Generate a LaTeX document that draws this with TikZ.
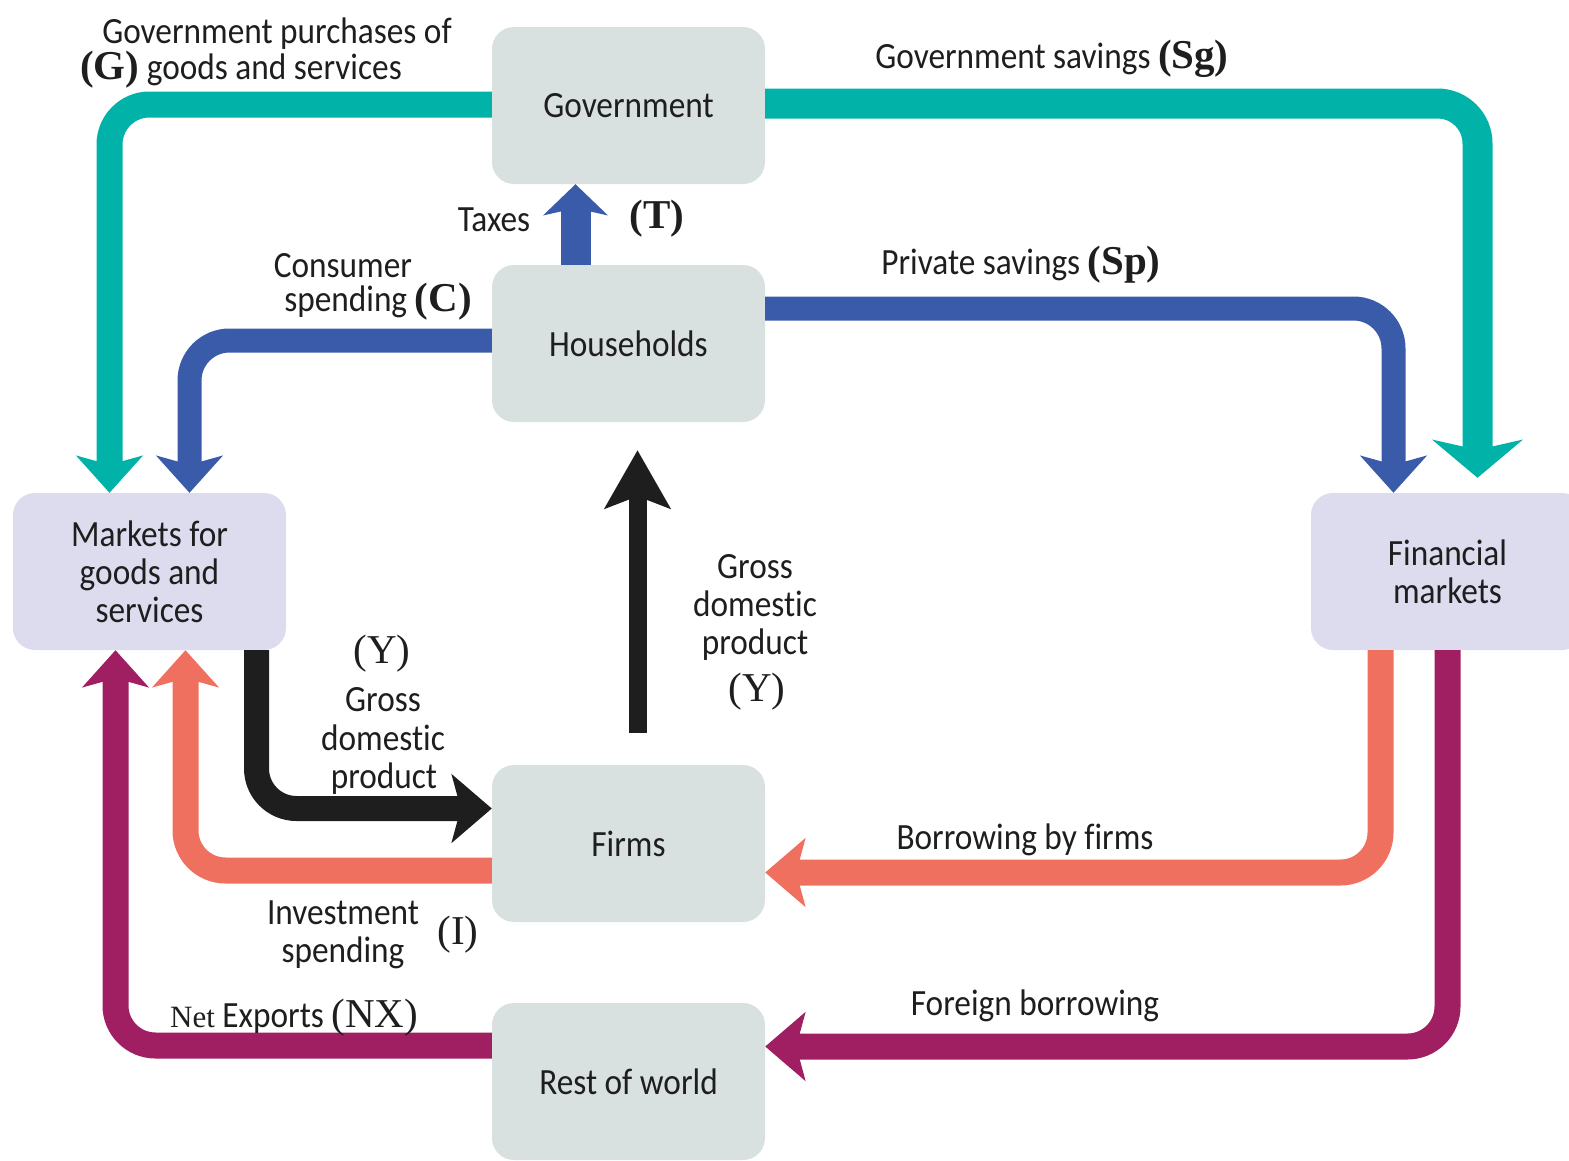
\documentclass[tikz,border=0pt]{standalone}
\usepackage{fontspec}
\setmainfont{Carlito}[Ligatures=NoCommon, FakeStretch=0.9]
\newfontfamily\tms{Liberation Serif}
\usetikzlibrary{arrows.meta}
\definecolor{cteal}{HTML}{00B2A7}
\definecolor{cblue}{HTML}{3A5AAA}
\definecolor{csalmon}{HTML}{F0705F}
\definecolor{cplum}{HTML}{A01E62}
\definecolor{cink}{HTML}{1E1E1E}
\definecolor{boxgray}{HTML}{D9E1E0}
\definecolor{boxlav}{HTML}{DCDCEE}
\newcommand\mySer[1]{{\tms\fontsize{41}{44}\selectfont #1}}
\newcommand\mySerB[1]{{\tms\bfseries\fontsize{41}{44}\selectfont #1}}
\begin{document}
\begin{tikzpicture}[x=1pt,y=-1pt,
  box/.style={rounded corners=22pt, minimum width=273pt, minimum height=157pt,
    inner sep=0pt, align=center, font=\fontsize{37}{38}\selectfont, text=cink},
  graybox/.style={box, fill=boxgray},
  lavbox/.style={box, fill=boxlav},
  lbl/.style={font=\fontsize{37}{38}\selectfont, text=cink, inner sep=0pt, anchor=mid, yshift=-9pt},
  flow/.style={line width=#1, rounded corners=40pt},
  tipA/.style={-{Stealth[length=37pt,width=66pt,inset=9pt]}},
  tipB/.style={-{Stealth[length=38pt,width=90pt,inset=10pt]}},
  tipT/.style={-{Stealth[length=31pt,width=64pt,inset=7pt]}},
  tipY/.style={-{Stealth[length=58pt,width=65pt,inset=12pt]}},
  tipR/.style={-{Stealth[length=40pt,width=68pt,inset=9pt]}}
]
\useasboundingbox (0,0) rectangle (1569,1160);
\clip (0,0) rectangle (1569,1160);

% boxes
\node[graybox] (gov) at (628.5,105.5) {Government};
\node[graybox] (hh) at (628.5,343.5) {Households};
\node[graybox] (firms) at (628.5,843.5) {Firms};
\node[graybox] (row) at (628.5,1081.5) {Rest of world};
\node[lavbox] (mkt) at (149.5,571.5) {Markets for\\goods and\\services};
\node[lavbox] (fin) at (1447.5,571.5) {Financial\\markets};

% flows
\draw[flow=26pt, cteal, tipA] ([yshift=1pt]gov.west) -| ([xshift=-40pt]mkt.north);
\draw[flow=30pt, cteal, tipB] ([yshift=2pt]gov.east) -| ([xshift=30pt,yshift=15pt]fin.north);
\draw[flow=24pt, cblue, tipA] ([yshift=3pt]hh.west) -| ([xshift=40pt]mkt.north);
\draw[flow=24pt, cblue, tipA] ([yshift=35pt]hh.east) -| ([xshift=-54pt]fin.north);
\draw[line width=30pt, cblue, tipT] ([xshift=-53pt]hh.north) -- ([xshift=-53pt]gov.south);
\draw[line width=18pt, cink, tipY] ([xshift=9pt,yshift=32pt]firms.north) -- ([xshift=9pt,yshift=-28pt]hh.south);
\draw[flow=25pt, cink, tipR] ([xshift=107pt]mkt.south) |- ([yshift=35pt]firms.west);
\draw[flow=26pt, csalmon, tipA] ([yshift=-27pt]firms.west) -| ([xshift=36pt]mkt.south);
\draw[flow=26pt, csalmon, tipR] ([xshift=-67pt]fin.south) |- ([yshift=-29pt]firms.east);
\draw[flow=26pt, cplum, tipA] ([yshift=36pt]row.west) -| ([xshift=-34pt]mkt.south);
\draw[flow=26pt, cplum, tipR] (fin.south) |- ([yshift=35pt]row.east);

% labels
\node[lbl] (t1) at (277,32) {Government purchases of};
\node[lbl] (t2) at (241,68) {\mySerB{(G)} goods and services};
\node[lbl] (t3) at (1052,57) {Government savings \mySerB{(Sg)}};
\node[lbl] (t4) at (494,220) {Taxes};
\node[lbl] (t5) at (657,217) {\mySerB{(T)}};
\node[lbl] (t6) at (343,266) {Consumer};
\node[lbl] (t7) at (378,300) {spending \mySerB{(C)}};
\node[lbl] (t8) at (1021,263) {Private savings \mySerB{(Sp)}};
\node[lbl] (t9) at (755,567) {Gross};
\node[lbl] (t10) at (755,605) {domestic};
\node[lbl] (t11) at (755,643) {product};
\node[lbl] (t12) at (757,690) {\mySer{(Y)}};
\node[lbl] (t13) at (382,652) {\mySer{(Y)}};
\node[lbl] (t14) at (383,700) {Gross};
\node[lbl] (t15) at (383,739) {domestic};
\node[lbl] (t16) at (384,777) {product};
\node[lbl] (t17) at (1025,838) {Borrowing by firms};
\node[lbl] (t18) at (343,913) {Investment};
\node[lbl] (t19) at (343,951) {spending};
\node[lbl] (t20) at (458,933) {\mySer{(I)}};
\node[lbl, anchor=mid west] (t21) at (170,1016) {{\tms\fontsize{31}{34}\selectfont Net} Exports \mySer{(NX)}};
\node[lbl] (t22) at (1035,1004) {Foreign borrowing};
\end{tikzpicture}
\end{document}
